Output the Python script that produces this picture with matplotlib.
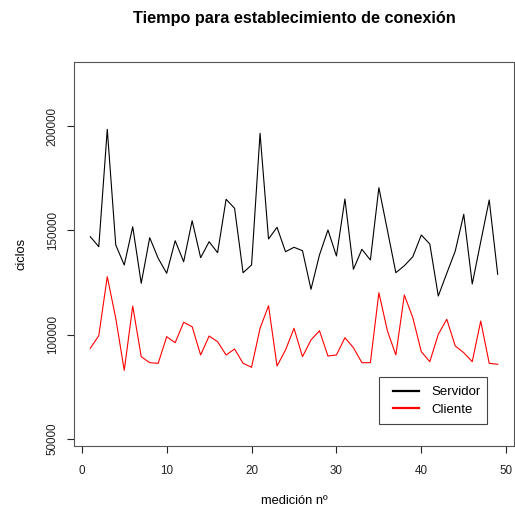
import matplotlib
matplotlib.use('Agg')
import matplotlib.pyplot as plt
from matplotlib.lines import Line2D
from matplotlib.patches import Rectangle

plt.rcParams['font.family'] = ['Liberation Sans', 'DejaVu Sans']

medicion = list(range(1, 50))

servidor = [146950, 142160, 198420, 142970, 133390, 151740, 124620, 146470, 136600, 129410,
            145030, 134970, 154620, 136890, 144550, 139280, 164870, 160560, 129700, 133390,
            196500, 145850, 151450, 139760, 141870, 140240, 121740, 138180, 150160, 137700,
            165020, 131330, 140910, 135780, 170430, 150160, 129700, 133050, 137360, 147760,
            143450, 118530, 129410, 140100, 157680, 124280, 144550, 164540, 128930]

cliente = [93470, 99510, 127780, 107850, 82920, 113740, 89440, 86570, 86280, 99030,
           96150, 105930, 103820, 90260, 99360, 96630, 90260, 93130, 86280, 84360,
           103050, 113880, 84990, 92650, 103050, 89440, 97440, 101900, 89780, 90260,
           98550, 93750, 86570, 86570, 120110, 101900, 90260, 119010, 108130, 91840,
           87050, 100180, 107370, 94570, 91360, 87050, 106550, 86280, 85800]

xticks = [0, 10, 20, 30, 40, 50]
yticks = [50000, 100000, 150000, 200000]

W, H = 515, 509
fig = plt.figure(figsize=(W / 100, H / 100), dpi=100)
ax = fig.add_axes([74 / W, 1 - 446 / H, 440 / W, 384 / H])

ax.plot(medicion, servidor, color='black', lw=0.8)
ax.plot(medicion, cliente, color='red', lw=0.8)

ax.set_xlim(-0.92, 50.92)
ax.set_ylim(46650, 230670)
ax.set_xticks(xticks)
ax.set_yticks(yticks)
ax.set_yticklabels([str(v) for v in yticks], rotation=90, va='center')
ax.tick_params(axis='both', direction='out', length=5, width=0.8, labelsize=8.4, colors='#222222')
ax.tick_params(axis='x', pad=9)
ax.tick_params(axis='y', pad=6)
for s in ax.spines.values():
    s.set_color('#555555')
    s.set_linewidth(0.8)

ax.set_xlabel('medición nº', fontsize=9.3, labelpad=13)
ax.set_ylabel('ciclos', fontsize=9.3, labelpad=14)
fig.text(294 / W, 1 - 19 / H, 'Tiempo para establecimiento de conexión',
         ha='center', va='center', fontsize=11.7, fontweight='bold')

# legend box like R's: frame drawn separately, entries indented a bit
x0, x1, y0, y1 = (379 - 74) / 440, (487 - 74) / 440, (446 - 424) / 384, (446 - 377) / 384
ax.add_patch(Rectangle((x0, y0), x1 - x0, y1 - y0, transform=ax.transAxes,
                       facecolor='white', edgecolor='#444444', lw=0.8, zorder=4))
handles = [Line2D([], [], color='black', lw=1.6), Line2D([], [], color='red', lw=1.6)]
leg = ax.legend(handles, ['Servidor', 'Cliente'], loc='lower left',
                bbox_to_anchor=((385 - 74) / 440, y0, (487 - 385) / 440, y1 - y0),
                mode='expand', fontsize=9.5, frameon=False, borderaxespad=0,
                handlelength=2.0, handletextpad=0.9, borderpad=0.6, labelspacing=0.42)
leg.set_zorder(5)

fig.savefig('out.png', dpi=100)
